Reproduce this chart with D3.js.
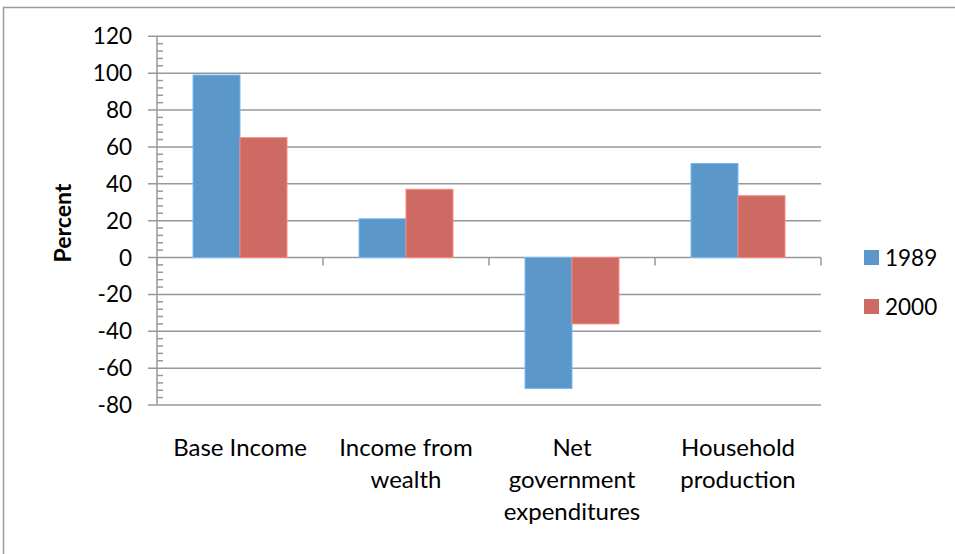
<!DOCTYPE html>
<html><head><meta charset="utf-8">
<script src="https://cdn.jsdelivr.net/npm/d3@7"></script>
<style>body{margin:0;background:#fff;} svg{display:block;font-family:Lato,"Open Sans",sans-serif;}</style>
</head><body>
<script>
const categories = [["Base Income"],["Income from","wealth"],["Net","government","expenditures"],["Household","production"]];
const series = ["1989","2000"];
const values1989 = [99, 21, -71, 51];
const values2000 = [65, 37, -36, 33.5];
const yTicks = [120,100,80,60,40,20,0,-20,-40,-60,-80];
const colors = ["#5B97C8","#CD6A63"];

(function(){
const W=955,H=554;
const svg=d3.select("body").append("svg").attr("width",W).attr("height",H);
svg.append("rect").attr("x",3.5).attr("y",7.5).attr("width",W+10).attr("height",H+10)
  .attr("fill","none").attr("stroke","#9a9a9a").attr("stroke-width",1.5);

const pL=157,pR=821,pT=36.3,pB=405;
const y=d3.scaleLinear().domain([-80,120]).range([pB,pT]);
const x0=d3.scaleBand().domain(d3.range(categories.length)).range([pL,pR]).paddingInner(0.434).paddingOuter(0.217);
const x1=d3.scaleBand().domain(series).range([0,x0.bandwidth()]);

svg.append("g").selectAll("line").data(yTicks).join("line")
  .attr("x1",148).attr("x2",pR).attr("y1",d=>y(d)).attr("y2",d=>y(d))
  .attr("stroke","#989898").attr("stroke-width",1.5);
const minor=d3.range(-80,121,4).filter(v=>v%20!==0);
svg.append("g").selectAll("line").data(minor).join("line")
  .attr("x1",pL).attr("x2",pL+6).attr("y1",d=>y(d)).attr("y2",d=>y(d))
  .attr("stroke","#989898").attr("stroke-width",1.5);
svg.append("line").attr("x1",pL).attr("x2",pL).attr("y1",pT).attr("y2",pB).attr("stroke","#989898").attr("stroke-width",1.5);
svg.append("g").selectAll("text").data(yTicks).join("text")
  .attr("x",132).attr("y",d=>y(d)+8).attr("text-anchor","end")
  .attr("font-size",22.5).attr("fill","#000").text(d=>d);
const catEdges=d3.range(0,categories.length+1).map(i=>pL+i*(pR-pL)/categories.length);
svg.append("g").selectAll("line").data(catEdges).join("line")
  .attr("x1",d=>d).attr("x2",d=>d).attr("y1",y(0)).attr("y2",y(0)+8)
  .attr("stroke","#989898").attr("stroke-width",1.5);

const data=[values1989,values2000];
series.forEach((s,si)=>{
  svg.append("g").selectAll("rect").data(data[si]).join("rect")
    .attr("x",(d,i)=>x0(i)+x1(s)).attr("width",x1.bandwidth())
    .attr("y",d=>y(Math.max(0,d))).attr("height",d=>Math.abs(y(d)-y(0)))
    .attr("fill",colors[si]).attr("stroke",d3.color(colors[si]).brighter(0.6)).attr("stroke-width",1);
});

const cg=svg.append("g");
categories.forEach((lines,i)=>{
  const cx=pL+(i+0.5)*(pR-pL)/categories.length;
  lines.forEach((t,j)=>{
    cg.append("text").attr("x",cx).attr("y",456+j*32).attr("text-anchor","middle")
      .attr("font-size",24).attr("fill","#000").text(t);
  });
});

svg.append("text").attr("transform","translate(71,223) rotate(-90)").attr("text-anchor","middle")
  .attr("font-size",23).attr("font-weight","bold").text("Percent");

series.forEach((s,i)=>{
  const ly=250+i*49;
  svg.append("rect").attr("x",864).attr("y",ly).attr("width",15).attr("height",15).attr("fill",colors[i]);
  svg.append("text").attr("x",885).attr("y",ly+15.5).attr("font-size",22.5).text(s);
});
})();
</script>
</body></html>
